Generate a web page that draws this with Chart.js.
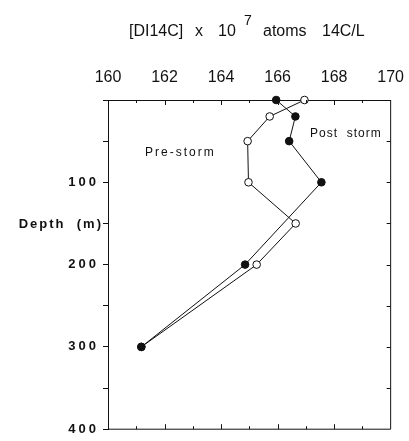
<!DOCTYPE html>
<html>
<head>
<meta charset="utf-8">
<script src="https://cdn.jsdelivr.net/npm/chart.js@4.4.0/dist/chart.umd.min.js"></script>
<style>
  html, body { margin: 0; padding: 0; background: #fff; }
  #wrap { width: 409px; height: 441px; }
</style>
</head>
<body>
<div id="wrap"><canvas id="c" width="409" height="441"></canvas></div>
<script>
// ---- data ----
const preDepths = [0, 20, 50, 100, 150, 200, 300];
const preValues = [166.95, 165.72, 164.94, 164.97, 166.64, 165.26, 161.18];
const postDepths = [0, 20, 50, 100, 200, 300];
const postValues = [165.95, 166.63, 166.41, 167.55, 164.85, 161.18];
const xTickValues = [160, 162, 164, 166, 168, 170];
const yTickLabels = [100, 200, 300, 400];
const seriesNames = ['Post storm', 'Pre-storm'];
const axisTitle = 'Depth  (m)';

const toPts = (xs, ys) => xs.map((v, i) => ({ x: v, y: ys[i] }));

const FONT = '"Liberation Sans", Arial, sans-serif';

const decor = {
  id: 'decor',
  beforeDraw(chart) {
    const ctx = chart.ctx;
    ctx.save();
    ctx.fillStyle = '#fff';
    ctx.fillRect(0, 0, chart.width, chart.height);
    ctx.restore();
  },
  afterDatasetsDraw(chart) {
    const ctx = chart.ctx;
    const a = chart.chartArea;
    const xs = chart.scales.x, ys = chart.scales.y;
    ctx.save();
    ctx.strokeStyle = '#111';
    ctx.lineWidth = 1;
    // frame right & bottom
    ctx.beginPath();
    ctx.moveTo(a.right, a.top); ctx.lineTo(a.right, a.bottom); ctx.lineTo(a.left, a.bottom);
    ctx.stroke();
    // inward ticks top/bottom
    for (let v = 161; v < 170; v++) {
      const px = Math.round(xs.getPixelForValue(v)) + 0.5;
      const len = (v % 2 === 0) ? 5 : 3;
      ctx.beginPath();
      ctx.moveTo(px, a.top); ctx.lineTo(px, a.top + len);
      ctx.moveTo(px, a.bottom); ctx.lineTo(px, a.bottom - len);
      ctx.stroke();
    }
    // inward ticks right
    for (let d = 50; d < 400; d += 50) {
      const py = Math.round(ys.getPixelForValue(d)) + 0.5;
      ctx.beginPath();
      ctx.moveTo(a.right, py); ctx.lineTo(a.right - 4, py);
      ctx.stroke();
    }
    // title
    ctx.fillStyle = '#111';
    ctx.textBaseline = 'alphabetic';
    ctx.textAlign = 'left';
    ctx.font = '16px ' + FONT;
    ctx.fillText('[DI14C]', 129, 36);
    ctx.fillText('x', 195, 36);
    ctx.fillText('10', 218, 36);
    ctx.fillText('atoms', 263, 36);
    ctx.fillText('14C/L', 322, 36);
    ctx.font = '14px ' + FONT;
    ctx.fillText('7', 244, 25);
    // series labels
    ctx.font = '12px ' + FONT;
    try { ctx.letterSpacing = '2px'; } catch (e) {}
    ctx.textBaseline = 'middle';
    ctx.fillText(seriesNames[1], 145, 153);
    try { ctx.letterSpacing = '1px'; } catch (e) {}
    ctx.fillText(seriesNames[0].replace(' ', '  '), 310, 134);
    // axis title
    try { ctx.letterSpacing = '2px'; } catch (e) {}
    ctx.font = 'bold 13px ' + FONT;
    ctx.textAlign = 'right';
    ctx.fillText(axisTitle, 103, ys.getPixelForValue(150) + 1);
    ctx.restore();
    // letter spacing for y tick labels (drawn after datasets)
    try { ctx.letterSpacing = '3px'; } catch (e) {}
  },
  afterDraw(chart) {
    try { chart.ctx.letterSpacing = '0px'; } catch (e) {}
  }
};

new Chart(document.getElementById('c'), {
  type: 'scatter',
  data: {
    datasets: [
      {
        label: seriesNames[0],
        data: toPts(postValues, postDepths),
        showLine: true,
        borderColor: '#111',
        borderWidth: 1,
        pointRadius: 3.8,
        pointBackgroundColor: '#111',
        pointBorderColor: '#111',
        pointBorderWidth: 1,
        clip: false
      },
      {
        label: seriesNames[1],
        data: toPts(preValues, preDepths),
        showLine: true,
        borderColor: '#111',
        borderWidth: 1,
        pointRadius: 3.8,
        pointBackgroundColor: '#fff',
        pointBorderColor: '#111',
        pointBorderWidth: 1,
        clip: false
      }
    ]
  },
  options: {
    responsive: false,
    animation: false,
    devicePixelRatio: 1,
    layout: { padding: { top: 70, right: 15, bottom: 10, left: 0 } },
    plugins: { legend: { display: false }, tooltip: { enabled: false }, title: { display: false } },
    scales: {
      x: {
        type: 'linear',
        position: 'top',
        min: 160, max: 170,
        afterBuildTicks(scale) { scale.ticks = xTickValues.map(v => ({ value: v })); },
        afterFit(scale) { scale.height = 30; },
        ticks: {
          color: '#111',
          font: { family: FONT, size: 16 },
          padding: 5,
          maxRotation: 0,
          autoSkip: false
        },
        grid: { display: false },
        border: { display: true, color: '#111', width: 1 }
      },
      y: {
        type: 'linear',
        reverse: true,
        min: 0, max: 400,
        afterBuildTicks(scale) {
          const t = [];
          for (let d = 0; d <= 400; d += 50) t.push({ value: d });
          scale.ticks = t;
        },
        afterFit(scale) { scale.width = 108; },
        ticks: {
          z: 1,
          color: '#111',
          font: { family: FONT, size: 13, weight: 'bold' },
          padding: 4,
          autoSkip: false,
          callback: (v) => yTickLabels.includes(v) ? String(v) : ''
        },
        grid: { display: true, drawOnChartArea: false, drawTicks: true, tickLength: 5, color: '#111', lineWidth: 1 },
        border: { display: true, color: '#111', width: 1 }
      }
    }
  },
  plugins: [decor]
});
</script>
</body>
</html>
